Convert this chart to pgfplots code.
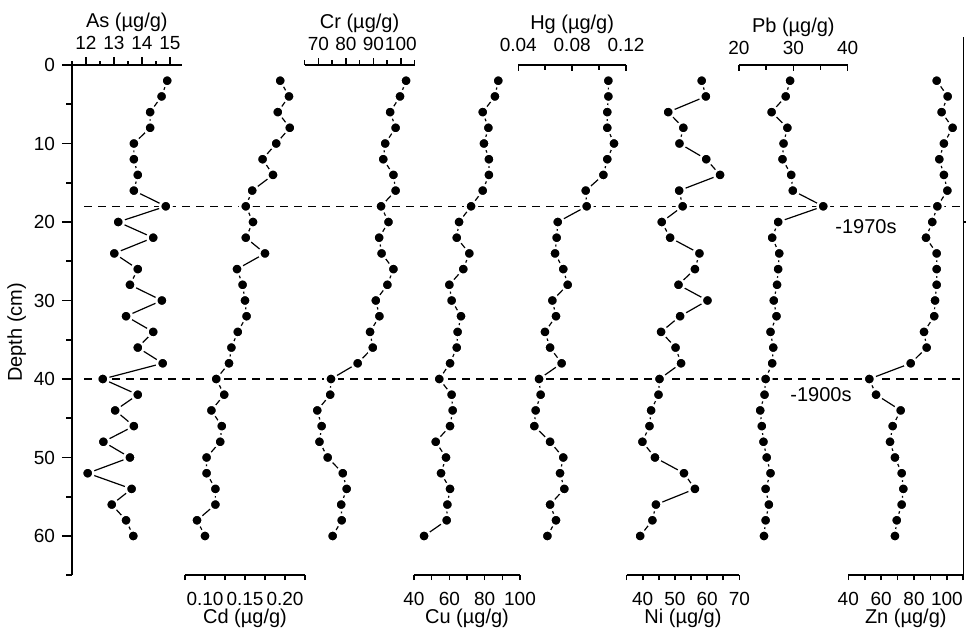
\documentclass[border=0pt]{standalone}
\usepackage{fontspec}
\setmainfont{Liberation Sans}
\usepackage{pgfplots}
\usepackage{pgfplotstable}
\pgfplotsset{compat=1.18}

\pgfplotstableread{
d  As    Cd    Cr    Cu   Hg     Ni   Pb   Zn
2  14.90 0.194 101.9 87.7 0.1069 58.3 29.4 93.8
4  14.70 0.205 99.7  85.8 0.1069 59.6 28.6 100.5
6  14.29 0.191 96.1  78.9 0.1061 47.9 26.0 96.8
8  14.29 0.206 98.1  82.1 0.1061 52.6 28.9 103.5
10 13.71 0.189 94.3  79.6 0.1111 51.4 28.2 98.2
12 13.71 0.172 93.6  82.4 0.1061 59.7 28.0 95.4
14 13.85 0.185 97.3  82.4 0.1032 64.0 29.6 98.2
16 13.71 0.159 98.1  78.9 0.0901 51.3 29.9 100.3
18 14.85 0.151 92.8  72.3 0.0908 52.4 35.5 94.2
20 13.15 0.160 95.5  65.5 0.0693 45.9 27.2 91.1
22 14.40 0.151 92.1  64.2 0.0685 48.5 26.1 87.3
24 13.01 0.175 93.0  71.3 0.0673 57.6 27.4 93.8
26 13.85 0.140 97.3  67.9 0.0734 56.2 27.2 93.8
28 13.57 0.147 95.1  60.0 0.0767 51.1 27.0 93.8
30 14.71 0.150 90.9  61.3 0.0653 60.1 26.4 92.8
32 13.43 0.152 92.2  66.6 0.0680 51.6 26.9 92.3
34 14.40 0.141 88.8  64.7 0.0598 45.7 25.8 86.1
36 13.85 0.133 89.8  64.2 0.0636 50.2 26.3 87.7
38 14.74 0.130 84.3  60.4 0.0722 51.9 26.1 78.0
40 12.60 0.114 74.6  54.3 0.0554 45.2 24.9 52.8
42 13.85 0.124 74.3  61.3 0.0566 44.9 24.7 56.9
44 13.04 0.108 69.6  61.9 0.0529 42.6 23.9 71.9
46 13.71 0.121 71.2  60.4 0.0519 42.1 24.2 67.0
48 12.62 0.119 70.4  52.3 0.0636 39.9 24.5 65.4
50 13.57 0.102 73.4  58.1 0.0734 43.8 25.1 68.4
52 12.06 0.102 78.9  55.3 0.0710 52.8 25.8 72.5
54 13.63 0.113 80.3  60.4 0.0742 56.2 24.9 73.5
56 12.92 0.113 78.3  58.9 0.0636 44.1 25.5 72.5
58 13.43 0.090 78.5  58.5 0.0680 43.0 24.9 69.5
60 13.69 0.100 75.2  45.7 0.0616 39.2 24.6 68.4
}\data

\pgfplotsset{
  sub/.style={
    scale only axis, height=255.125pt, ymin=0, ymax=65, y dir=reverse,
    anchor=north west, clip=false,
    axis y line*=left, y axis line style={draw=none},
    axis line style={line width=0.8pt,-},
    tick style={line width=0.8pt, black},
    xticklabel style={font=\fontsize{9.5}{10}\selectfont},
    yticklabel style={font=\fontsize{9.5}{10}\selectfont},
    xlabel style={font=\fontsize{10}{11}\selectfont, inner sep=0pt},
    ylabel style={font=\fontsize{10}{11}\selectfont},
    /pgf/number format/assume math mode=true,
    scaled x ticks=false,
    ytick=\empty,
  },
  top/.style={axis x line*=top, xlabel style={yshift=-1.2pt}},
  bot/.style={axis x line*=bottom, xticklabel shift=2.5pt,
    xlabel style={yshift=1.7pt}},
  ln/.style={black, line width=0.6pt, no marks},
  dots/.style={only marks, mark=*, mark size=2.85pt,
    mark options={fill=black, draw=white, line width=1.25pt}},
}

\begin{document}
\begin{tikzpicture}
\useasboundingbox (0,0) rectangle (483pt,-314pt);
% reference lines
\draw[line width=0.7pt, dash pattern=on 4pt off 3pt] (42pt,-103.15pt) -- (481.65pt,-103.15pt);
\draw[line width=0.7pt, dash pattern=on 4pt off 3pt] (42pt,-189.5pt) -- (481.65pt,-189.5pt);
\draw[line width=0.8pt] (481.65pt,-18.5pt) -- (481.65pt,-287.6pt);
\draw[line width=0.8pt] (481.65pt,-111pt) -- (483.5pt,-111pt);
\node[anchor=west, inner sep=0pt, font=\fontsize{10}{11}\selectfont] at (417.5pt,-113.5pt) {-1970s};
\node[anchor=west, inner sep=0pt, font=\fontsize{10}{11}\selectfont] at (395pt,-197.5pt) {-1900s};

% Depth axis
\begin{axis}[sub, at={(36pt,-32.5pt)}, width=54.88pt, xmin=0, xmax=1,
  axis x line*=bottom, x axis line style={draw=none}, xtick=\empty,
  y axis line style={draw=black},
  ytick={0,10,...,60}, minor ytick={5,15,...,65},
  tick align=outside, major tick length=5pt, minor tick length=2.8pt,
  ylabel={Depth (cm)}, ylabel style={at={(ticklabel cs:0.476,-3pt)}}]
\addplot[draw=none, no marks] coordinates {(0.5,30)};
\end{axis}

% As
\begin{axis}[sub, top, at={(36pt,-32.5pt)}, width=54.88pt, xmin=11.5, xmax=15.42,
  xtick={12,13,14,15}, minor xtick={11.5,12.5,13.5,14.5},
  tick align=outside, major tick length=4pt, minor tick length=2pt,
  xlabel={As (µg/g)}]
\addplot[ln] table[x=As, y=d]{\data};
\addplot[dots] table[x=As, y=d]{\data};
\end{axis}

% Cd
\begin{axis}[sub, bot, at={(92.5pt,-32.5pt)}, width=60pt, xmin=0.075, xmax=0.225,
  xtick={0.1,0.15,0.2}, xticklabels={0.10,0.15,0.20},
  minor xtick={0.075,0.125,0.175,0.225},
  tick align=outside, major tick length=2.5pt, minor tick length=2.5pt,
  xlabel={Cd (µg/g)}]
\addplot[ln] table[x=Cd, y=d]{\data};
\addplot[dots] table[x=Cd, y=d]{\data};
\end{axis}

% Cr
\begin{axis}[sub, top, at={(152.3pt,-32.5pt)}, width=55pt, xmin=65, xmax=105,
  xtick={70,80,90,100}, minor xtick={65,75,85,95,105},
  tick align=outside, major tick length=3.5pt, minor tick length=2.5pt,
  xlabel={Cr (µg/g)}]
\addplot[ln] table[x=Cr, y=d]{\data};
\addplot[dots] table[x=Cr, y=d]{\data};
\end{axis}

% Cu
\begin{axis}[sub, bot, at={(207pt,-32.5pt)}, width=53pt, xmin=40, xmax=100,
  xtick={40,60,80,100}, minor xtick={50,70,90},
  tick align=outside, major tick length=2.5pt, minor tick length=2.5pt,
  xlabel={Cu (µg/g)}]
\addplot[ln] table[x=Cu, y=d]{\data};
\addplot[dots] table[x=Cu, y=d]{\data};
\end{axis}

% Hg
\begin{axis}[sub, top, at={(259.15pt,-32.5pt)}, width=53.85pt, xmin=0.04, xmax=0.12,
  xtick={0.04,0.08,0.12}, xticklabels={0.04,0.08,0.12}, minor xtick={0.06,0.10},
  tick align=inside, major tick length=3pt, minor tick length=2.5pt,
  xticklabel shift=3pt,
  xlabel={Hg (µg/g)}]
\addplot[ln] table[x=Hg, y=d]{\data};
\addplot[dots] table[x=Hg, y=d]{\data};
\end{axis}

% Ni
\begin{axis}[sub, bot, at={(313.3pt,-32.5pt)}, width=56.4pt, xmin=35, xmax=70,
  xtick={40,50,60,70}, minor xtick={35,45,55,65},
  tick align=outside, major tick length=2.5pt, minor tick length=2.5pt,
  xlabel={Ni (µg/g)}]
\addplot[ln] table[x=Ni, y=d]{\data};
\addplot[dots] table[x=Ni, y=d]{\data};
\end{axis}

% Pb
\begin{axis}[sub, top, at={(369.5pt,-32.5pt)}, width=54.35pt, xmin=20, xmax=40,
  xtick={20,30,40}, minor xtick={25,35},
  tick align=inside, major tick length=3pt, minor tick length=2.5pt,
  xticklabel shift=1.5pt,
  xlabel={Pb (µg/g)}]
\addplot[ln] table[x=Pb, y=d]{\data};
\addplot[dots] table[x=Pb, y=d]{\data};
\end{axis}

% Zn
\begin{axis}[sub, bot, at={(424.15pt,-32.5pt)}, width=57.5pt, xmin=40, xmax=110,
  xtick={40,60,80,100}, minor xtick={50,70,90,110},
  tick align=outside, major tick length=2.5pt, minor tick length=2.5pt,
  xlabel={Zn (µg/g)}]
\addplot[ln] table[x=Zn, y=d]{\data};
\addplot[dots] table[x=Zn, y=d]{\data};
\end{axis}
\end{tikzpicture}
\end{document}
